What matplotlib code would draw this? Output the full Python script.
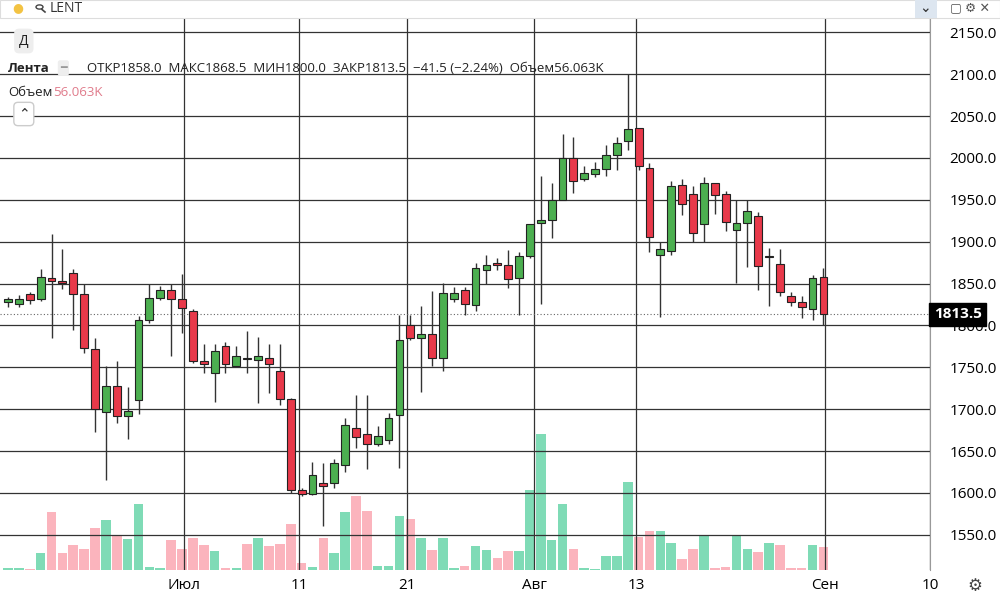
import matplotlib.pyplot as plt
from matplotlib.patches import Rectangle, Circle
from matplotlib.lines import Line2D

# OHLC свечи (дневные)
opens = [1828, 1826, 1837, 1831, 1857, 1853, 1863, 1837, 1772, 1697, 1728, 1692, 1711, 1806, 1833, 1842,
         1832, 1817, 1758, 1743, 1775, 1752, 1761, 1759, 1761, 1745, 1712, 1603, 1599, 1612, 1612, 1633,
         1677, 1670, 1659, 1663, 1693, 1801, 1785, 1790, 1761, 1832, 1842, 1824, 1866, 1875, 1872, 1857,
         1883, 1922, 1926, 1950, 2000, 1975, 1981, 1987, 2004, 2020, 2036, 1988, 1884, 1889, 1968, 1957,
         1921, 1970, 1957, 1914, 1922, 1931, 1882, 1873, 1835, 1828, 1819, 1858]
closes = [1832, 1832, 1830, 1858, 1853, 1851, 1837, 1773, 1700, 1728, 1692, 1698, 1807, 1833, 1842, 1832,
          1821, 1757, 1754, 1769, 1754, 1764, 1760, 1764, 1754, 1712, 1604, 1599, 1621, 1608, 1636, 1681,
          1667, 1659, 1668, 1690, 1783, 1785, 1790, 1761, 1839, 1839, 1825, 1869, 1872, 1872, 1856, 1883,
          1921, 1926, 1950, 2000, 1972, 1982, 1987, 2004, 2018, 2035, 1990, 1906, 1891, 1967, 1945, 1910,
          1970, 1956, 1924, 1922, 1936, 1871, 1882, 1840, 1828, 1822, 1857, 1813.5]
highs = [1834, 1836, 1840, 1867, 1909, 1891, 1867, 1849, 1785, 1752, 1758, 1726, 1811, 1849, 1847, 1850,
         1861, 1820, 1778, 1778, 1780, 1775, 1793, 1786, 1778, 1778, 1713, 1606, 1637, 1636, 1641, 1689,
         1717, 1717, 1680, 1695, 1812, 1812, 1823, 1841, 1851, 1846, 1846, 1874, 1884, 1880, 1890, 1888,
         1921, 1978, 1970, 2028, 2025, 1990, 1995, 2015, 2025, 2100, 2036, 1994, 1900, 1973, 1975, 1966,
         1977, 1970, 1960, 1950, 1950, 1935, 1892, 1891, 1840, 1835, 1860, 1868.5]
lows = [1822, 1822, 1826, 1829, 1785, 1843, 1794, 1767, 1673, 1616, 1683, 1664, 1694, 1803, 1830, 1763,
        1791, 1755, 1743, 1709, 1743, 1750, 1743, 1707, 1719, 1705, 1600, 1596, 1597, 1560, 1606, 1625,
        1654, 1628, 1656, 1658, 1630, 1782, 1721, 1752, 1746, 1828, 1812, 1817, 1849, 1866, 1845, 1813,
        1881, 1825, 1904, 1950, 1958, 1972, 1977, 1978, 1985, 2010, 1985, 1888, 1810, 1884, 1932, 1900,
        1900, 1933, 1913, 1851, 1870, 1842, 1823, 1835, 1823, 1809, 1806, 1800]

# объём, тыс.
volumes = [4, 4, 1.6, 43, 144, 43, 63, 51, 103, 123, 86, 76, 162, 8, 6, 74, 53, 78, 63, 47, 5, 5, 64,
           78, 59, 64, 114, 18, 8, 80, 41, 144, 184, 147, 10, 10, 133, 127, 78, 49, 80, 6, 10, 60, 49, 30,
           47, 47, 199, 336, 73, 162, 53, 4, 2.5, 35, 34, 218, 82, 97, 97, 67, 26, 51, 83, 6, 8, 87, 51,
           45, 67, 63, 4, 6, 61, 56.063]

xtick_pos = [16.2, 26.8, 36.7, 48.4, 57.8, 75.1, 84.8]
xtick_labels = ['Июл', '11', '21', 'Авг', '13', 'Сен', '10']
price_ticks = [1550, 1600, 1650, 1700, 1750, 1800, 1850, 1900, 1950, 2000, 2050, 2100, 2150]

plt.rcParams['font.family'] = ['Open Sans', 'DejaVu Sans']
fig = plt.figure(figsize=(10, 5.97), dpi=100)
ax = fig.add_axes([0, 27 / 597, 0.93, 1 - 45 / 597])
axv = ax.twinx()
axv.set_zorder(0)
ax.set_zorder(1)
ax.patch.set_visible(False)

n = len(opens)
ax.set_xlim(-0.74, 84.6)
ax.set_ylim(1508, 2167)
for i in range(n):
    o, c = opens[i], closes[i]
    col = '#4caf50' if c >= o else '#e8394a'
    ax.vlines(i, lows[i], highs[i], color='#333333', lw=1, zorder=2)
    ax.add_patch(Rectangle((i - 0.36, min(o, c)), 0.72, max(abs(c - o), 0.8),
                           facecolor=col, edgecolor='#222222', lw=0.8, zorder=3))

vcol = ['#7fdbb6' if closes[i] >= opens[i] else '#fbb4bd' for i in range(n)]
axv.bar(range(len(volumes)), volumes, width=0.88, color=vcol)
axv.set_ylim(0, 1365)
axv.set_yticks([])

for p in price_ticks:
    ax.axhline(p, color='#333333', lw=0.9, zorder=0)
for xp in xtick_pos:
    ax.axvline(xp, color='#333333', lw=0.9, zorder=0)
ax.axhline(closes[-1], color='#666666', lw=0.8, ls=(0, (1, 2)), zorder=1)

ax.yaxis.tick_right()
ax.set_yticks(price_ticks)
ax.set_yticklabels([str(p) + '.0' for p in price_ticks], fontsize=11)
ax.tick_params(axis='y', length=0, pad=14)
ax.set_xticks(xtick_pos)
ax.set_xticklabels(xtick_labels, fontsize=11)
ax.tick_params(axis='x', length=0, pad=6)
for s in ax.spines.values():
    s.set_visible(False)
for s in axv.spines.values():
    s.set_visible(False)
ax.spines['right'].set_visible(True)
ax.spines['right'].set_color('#999999')

ax.text(1.004, closes[-1], '1813.5', transform=ax.get_yaxis_transform(), fontsize=11,
        fontweight='bold', color='white', va='center', ha='left',
        bbox=dict(boxstyle='square,pad=0.3', fc='black', ec='black'))

# шапка
fig.patches.append(Rectangle((0, 1 - 18 / 597), 1, 18 / 597, transform=fig.transFigure,
                             facecolor='white', edgecolor='#dddddd', lw=0.8))
fig.text(0.012, 1 - 8 / 597, '●', color='#f3c343', fontsize=9, va='center')
# значок лупы
fig.patches.append(Circle((0.0395, 1 - 7 / 597), 0.0035, transform=fig.transFigure,
                          fill=False, ec='#444444', lw=1))
fig.lines.append(Line2D([0.042, 0.045], [1 - 9.5 / 597, 1 - 12 / 597], transform=fig.transFigure,
                        color='#444444', lw=1.2))
fig.text(0.05, 1 - 8 / 597, 'LENT', color='#333333', fontsize=10, va='center')
fig.text(0.95, 1 - 8 / 597, '▢ ⚙ ✕', color='#555555', fontsize=9, va='center')
fig.patches.append(Rectangle((0.915, 1 - 18 / 597), 0.022, 18 / 597, transform=fig.transFigure,
                             facecolor='#dde6f0', edgecolor='none'))
fig.text(0.919, 1 - 9 / 597, '⌄', color='#333', fontsize=10, va='center')
fig.text(0.019, 1 - 41 / 597, 'Д', fontsize=10, va='center', color='#222',
         bbox=dict(boxstyle='round,pad=0.35', fc='#eeeeee', ec='none'))
fig.text(0.008, 1 - 68 / 597, 'Лента', fontsize=9.5, va='center', color='#222', fontweight='bold')
fig.text(0.06, 1 - 68 / 597, '━', fontsize=8, va='center', color='#999',
         bbox=dict(boxstyle='round,pad=0.2', fc='#eeeeee', ec='none'))
fig.text(0.087, 1 - 68 / 597, 'ОТКР1858.0  МАКС1868.5  МИН1800.0  ЗАКР1813.5  −41.5 (−2.24%)  Объем56.063K',
         fontsize=9.5, va='center', color='#222')
fig.text(0.008, 1 - 92 / 597, 'Объем', fontsize=9.5, va='center', color='#222')
fig.text(0.053, 1 - 92 / 597, '56.063K', fontsize=9.5, va='center', color='#e07b8b')
fig.text(0.018, 1 - 114 / 597, '⌃', fontsize=10, va='center', color='#333',
         bbox=dict(boxstyle='round,pad=0.3', fc='white', ec='#cccccc'))
fig.text(0.967, 10 / 597, '⚙', fontsize=12, va='center', color='#444')

fig.savefig('out.png', dpi=100)
